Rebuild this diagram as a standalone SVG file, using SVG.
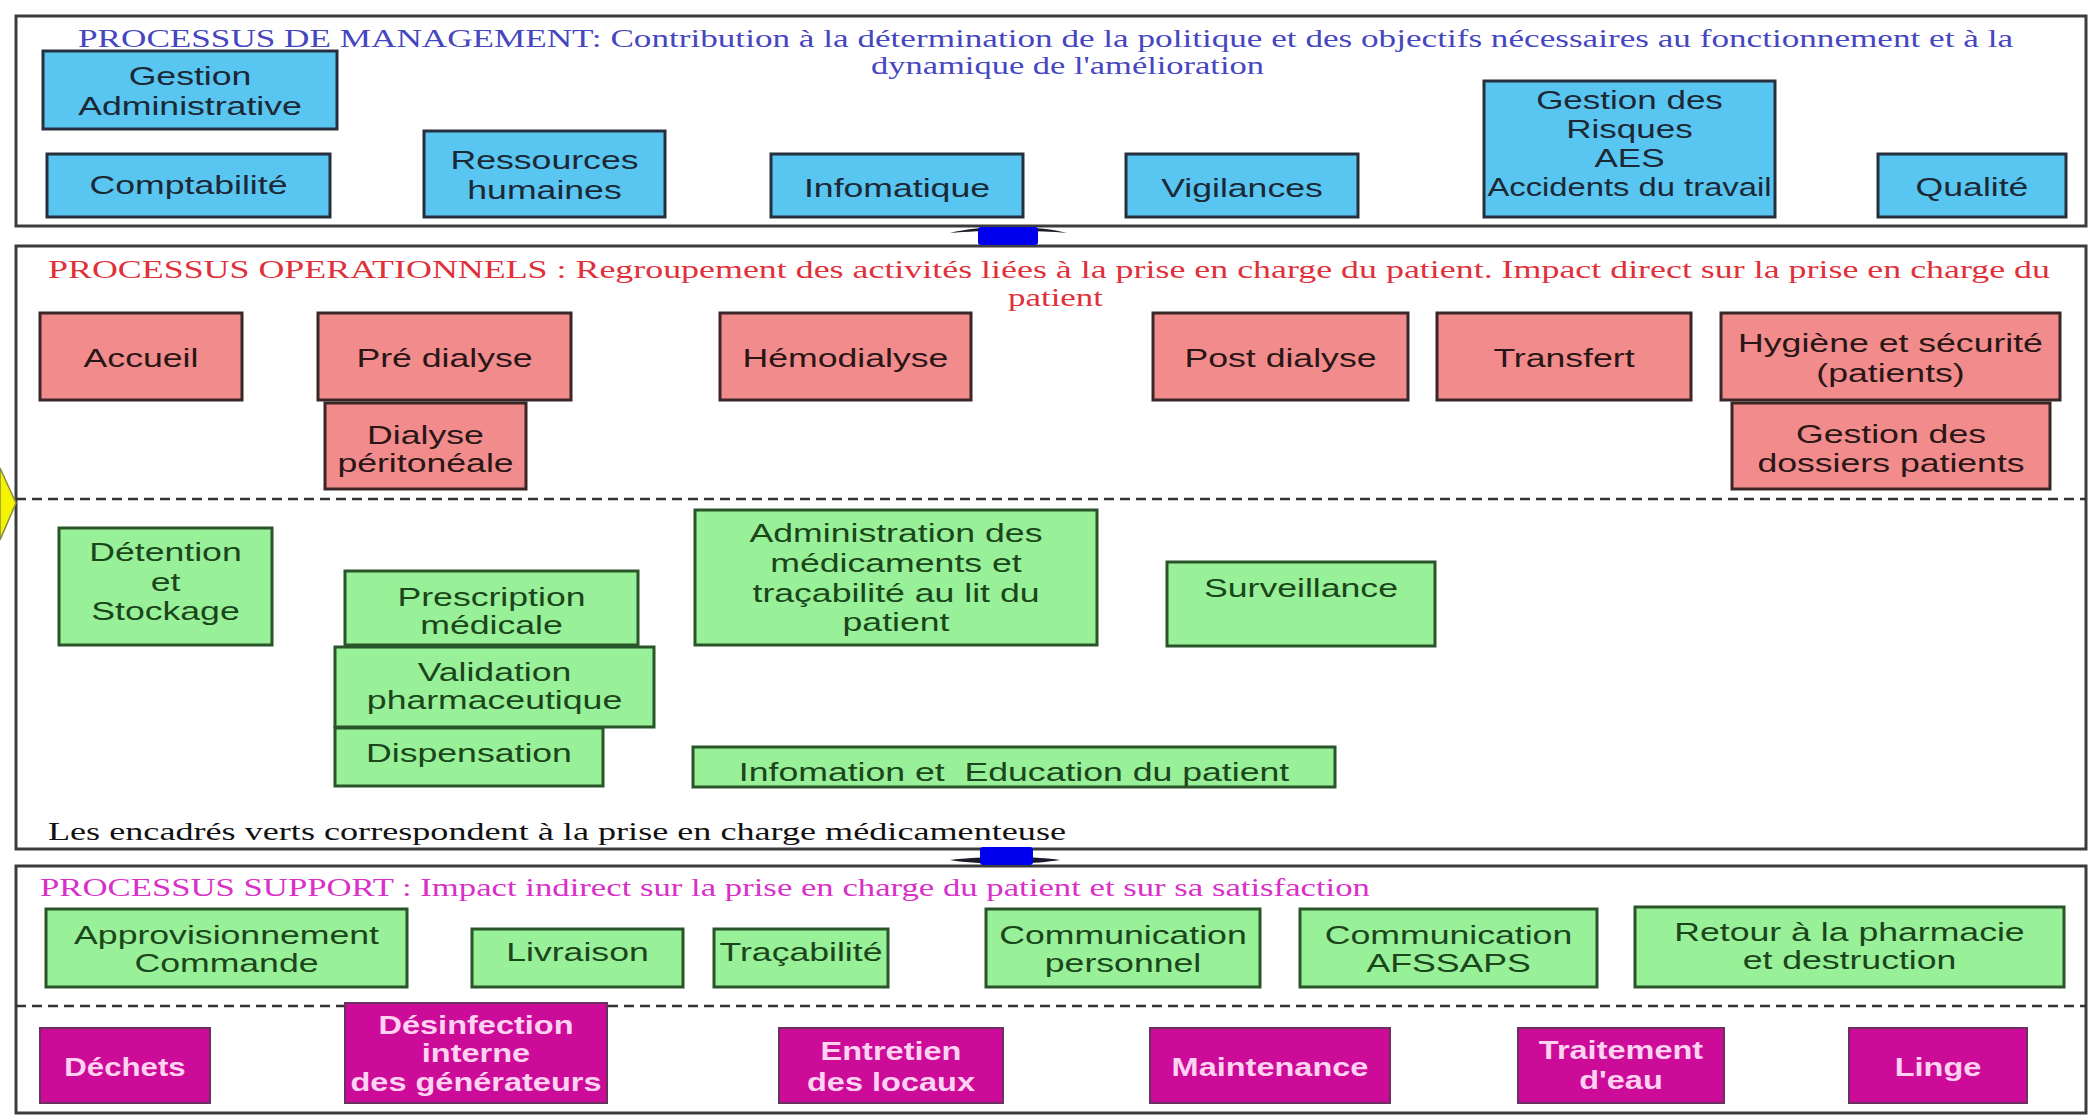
<svg xmlns="http://www.w3.org/2000/svg" width="2089" height="1119" viewBox="0 0 2089 1119">
<style>
.panel{fill:#ffffff;stroke:#3c3c3c;stroke-width:3}
.dash{stroke:#333;stroke-width:2.5;stroke-dasharray:10 6;fill:none}
.bb{fill:#58c6f0;stroke:#26303c;stroke-width:3}
.br{fill:#f28c8c;stroke:#3a2626;stroke-width:3}
.bg{fill:#98f098;stroke:#2a552a;stroke-width:3}
.bm{fill:#cc0c99;stroke:#6a3060;stroke-width:2}
.t{font-family:"Liberation Sans",Arial,sans-serif;font-size:26px;text-anchor:middle}
.tb{fill:#1c2836}
.tr{fill:#2a1616}
.tg{fill:#1b461b}
.tm{fill:#ffd2f2;font-weight:bold}
.h{font-family:"Liberation Serif","Times New Roman",serif;font-size:26px}
</style>
<rect width="2089" height="1119" fill="#ffffff"/>

<g id="panels">
<rect class="panel" x="16" y="16" width="2070" height="210"/>
<rect class="panel" x="16" y="246" width="2070" height="603"/>
<rect class="panel" x="16" y="866" width="2070" height="247"/>
<line class="dash" x1="16" y1="499" x2="2086" y2="499"/>
<line class="dash" x1="16" y1="1006" x2="2086" y2="1006"/>
<polygon points="0,468 16,503 0,540" fill="#f4f400" stroke="#8a8a40" stroke-width="1.5"/>
</g>

<g id="headers">
<text class="h" fill="#4646c0" x="78" y="47" textLength="1935" lengthAdjust="spacingAndGlyphs">PROCESSUS DE MANAGEMENT: Contribution à la détermination de la politique et des objectifs nécessaires au fonctionnement et à la</text>
<text class="h" fill="#4646c0" x="871" y="74" textLength="393" lengthAdjust="spacingAndGlyphs">dynamique de l'amélioration</text>
<text class="h" fill="#e0303a" x="48" y="278" textLength="2002" lengthAdjust="spacingAndGlyphs">PROCESSUS OPERATIONNELS : Regroupement des activités liées à la prise en charge du patient. Impact direct sur la prise en charge du</text>
<text class="h" fill="#e0303a" x="1008" y="306" textLength="95" lengthAdjust="spacingAndGlyphs">patient</text>
<text class="h" fill="#111" x="48" y="840" textLength="1018" lengthAdjust="spacingAndGlyphs">Les encadrés verts correspondent à la prise en charge médicamenteuse</text>
<text class="h" fill="#d830c8" x="40" y="896" textLength="1330" lengthAdjust="spacingAndGlyphs">PROCESSUS SUPPORT : Impact indirect sur la prise en charge du patient et sur sa satisfaction</text>
</g>

<g id="connectors">
<path d="M950,233 C980,225 1036,225 1067,233 C1036,230 980,230 950,233 Z" fill="#1a1a2a"/>
<rect x="978" y="227" width="60" height="18" rx="3" fill="#0000ee"/>
<path d="M950,860 C980,856 1030,856 1060,860 C1030,865 980,865 950,860 Z" fill="#1a1a2a"/>
<rect x="980" y="847" width="53" height="18" rx="3" fill="#0000ee"/>
</g>

<!-- management -->
<g id="n-gestion-admin"><rect class="bb" x="43" y="51" width="294" height="78"/>
<g transform="translate(190,0) scale(1.37,1)"><text class="t tb" x="0" y="85">Gestion</text><text class="t tb" x="0" y="115">Administrative</text></g></g>
<g id="n-comptabilite"><rect class="bb" x="47" y="154" width="283" height="63"/>
<g transform="translate(188.5,0) scale(1.37,1)"><text class="t tb" x="0" y="194">Comptabilité</text></g></g>
<g id="n-rh"><rect class="bb" x="424" y="131" width="241" height="86"/>
<g transform="translate(544.5,0) scale(1.37,1)"><text class="t tb" x="0" y="169">Ressources</text><text class="t tb" x="0" y="199">humaines</text></g></g>
<g id="n-informatique"><rect class="bb" x="771" y="154" width="252" height="63"/>
<g transform="translate(897,0) scale(1.37,1)"><text class="t tb" x="0" y="197">Infomatique</text></g></g>
<g id="n-vigilances"><rect class="bb" x="1126" y="154" width="232" height="63"/>
<g transform="translate(1242,0) scale(1.37,1)"><text class="t tb" x="0" y="197">Vigilances</text></g></g>
<g id="n-risques"><rect class="bb" x="1484" y="81" width="291" height="136"/>
<g transform="translate(1629.5,0) scale(1.4,1)"><text class="t tb" x="0" y="109" style="font-size:25px">Gestion des</text><text class="t tb" x="0" y="138" style="font-size:25px">Risques</text><text class="t tb" x="0" y="167" style="font-size:25px">AES</text></g>
<text class="t tb" x="1629.5" y="196" style="font-size:25px" textLength="284" lengthAdjust="spacingAndGlyphs">Accidents du travail</text></g>
<g id="n-qualite"><rect class="bb" x="1878" y="154" width="188" height="63"/>
<g transform="translate(1972,0) scale(1.37,1)"><text class="t tb" x="0" y="196">Qualité</text></g></g>

<!-- operational -->
<g id="n-accueil"><rect class="br" x="40" y="313" width="202" height="87"/>
<g transform="translate(141,0) scale(1.37,1)"><text class="t tr" x="0" y="367">Accueil</text></g></g>
<g id="n-predialyse"><rect class="br" x="318" y="313" width="253" height="87"/>
<g transform="translate(444.5,0) scale(1.37,1)"><text class="t tr" x="0" y="367">Pré dialyse</text></g></g>
<g id="n-hemodialyse"><rect class="br" x="720" y="313" width="251" height="87"/>
<g transform="translate(845.5,0) scale(1.37,1)"><text class="t tr" x="0" y="367">Hémodialyse</text></g></g>
<g id="n-postdialyse"><rect class="br" x="1153" y="313" width="255" height="87"/>
<g transform="translate(1280.5,0) scale(1.37,1)"><text class="t tr" x="0" y="367">Post dialyse</text></g></g>
<g id="n-transfert"><rect class="br" x="1437" y="313" width="254" height="87"/>
<g transform="translate(1564,0) scale(1.37,1)"><text class="t tr" x="0" y="367">Transfert</text></g></g>
<g id="n-hygiene"><rect class="br" x="1721" y="313" width="339" height="87"/>
<g transform="translate(1890.5,0) scale(1.37,1)"><text class="t tr" x="0" y="352">Hygiène et sécurité</text><text class="t tr" x="0" y="382">(patients)</text></g></g>
<g id="n-dialyse-peritoneale"><rect class="br" x="325" y="403" width="201" height="86"/>
<g transform="translate(425.5,0) scale(1.37,1)"><text class="t tr" x="0" y="444">Dialyse</text><text class="t tr" x="0" y="472">péritonéale</text></g></g>
<g id="n-dossiers"><rect class="br" x="1732" y="403" width="318" height="86"/>
<g transform="translate(1891,0) scale(1.37,1)"><text class="t tr" x="0" y="443">Gestion des</text><text class="t tr" x="0" y="472">dossiers patients</text></g></g>

<!-- medication (green) -->
<g id="n-detention"><rect class="bg" x="59" y="528" width="213" height="117"/>
<g transform="translate(165.5,0) scale(1.37,1)"><text class="t tg" x="0" y="561">Détention</text><text class="t tg" x="0" y="591">et</text><text class="t tg" x="0" y="620">Stockage</text></g></g>
<g id="n-prescription"><rect class="bg" x="345" y="571" width="293" height="74"/>
<g transform="translate(491.5,0) scale(1.37,1)"><text class="t tg" x="0" y="606">Prescription</text><text class="t tg" x="0" y="634">médicale</text></g></g>
<g id="n-validation"><rect class="bg" x="335" y="647" width="319" height="80"/>
<g transform="translate(494.5,0) scale(1.37,1)"><text class="t tg" x="0" y="681">Validation</text><text class="t tg" x="0" y="709">pharmaceutique</text></g></g>
<g id="n-dispensation"><rect class="bg" x="335" y="728" width="268" height="58"/>
<g transform="translate(469,0) scale(1.37,1)"><text class="t tg" x="0" y="762">Dispensation</text></g></g>
<g id="n-administration"><rect class="bg" x="695" y="510" width="402" height="135"/>
<g transform="translate(896,0) scale(1.37,1)"><text class="t tg" x="0" y="542">Administration des</text><text class="t tg" x="0" y="572">médicaments et</text><text class="t tg" x="0" y="602">traçabilité au lit du</text><text class="t tg" x="0" y="631">patient</text></g></g>
<g id="n-surveillance"><rect class="bg" x="1167" y="562" width="268" height="84"/>
<g transform="translate(1301,0) scale(1.37,1)"><text class="t tg" x="0" y="597">Surveillance</text></g></g>
<g id="n-information"><rect class="bg" x="693" y="747" width="642" height="40"/>
<g transform="translate(1014,0) scale(1.37,1)"><text class="t tg" x="0" y="781" xml:space="preserve">Infomation et  Education du patient</text></g></g>

<!-- support green -->
<g id="n-approvisionnement"><rect class="bg" x="46" y="909" width="361" height="78"/>
<g transform="translate(226.5,0) scale(1.37,1)"><text class="t tg" x="0" y="944">Approvisionnement</text><text class="t tg" x="0" y="972">Commande</text></g></g>
<g id="n-livraison"><rect class="bg" x="472" y="929" width="211" height="58"/>
<g transform="translate(577.5,0) scale(1.37,1)"><text class="t tg" x="0" y="961">Livraison</text></g></g>
<g id="n-tracabilite"><rect class="bg" x="714" y="929" width="174" height="58"/>
<g transform="translate(801,0) scale(1.37,1)"><text class="t tg" x="0" y="961">Traçabilité</text></g></g>
<g id="n-comm-personnel"><rect class="bg" x="986" y="909" width="274" height="78"/>
<g transform="translate(1123,0) scale(1.37,1)"><text class="t tg" x="0" y="944">Communication</text><text class="t tg" x="0" y="972">personnel</text></g></g>
<g id="n-comm-afssaps"><rect class="bg" x="1300" y="909" width="297" height="78"/>
<g transform="translate(1448.5,0) scale(1.37,1)"><text class="t tg" x="0" y="944">Communication</text><text class="t tg" x="0" y="972">AFSSAPS</text></g></g>
<g id="n-retour"><rect class="bg" x="1635" y="907" width="429" height="80"/>
<g transform="translate(1849.5,0) scale(1.37,1)"><text class="t tg" x="0" y="941">Retour à la pharmacie</text><text class="t tg" x="0" y="969">et destruction</text></g></g>

<!-- support magenta -->
<g id="n-dechets"><rect class="bm" x="40" y="1028" width="170" height="75"/>
<g transform="translate(125,0) scale(1.2,1)"><text class="t tm" x="0" y="1076">Déchets</text></g></g>
<g id="n-desinfection"><rect class="bm" x="345" y="1003" width="262" height="100"/>
<g transform="translate(476,0) scale(1.25,1)"><text class="t tm" x="0" y="1034">Désinfection</text><text class="t tm" x="0" y="1062">interne</text><text class="t tm" x="0" y="1091">des générateurs</text></g></g>
<g id="n-entretien"><rect class="bm" x="779" y="1028" width="224" height="75"/>
<g transform="translate(891,0) scale(1.25,1)"><text class="t tm" x="0" y="1060">Entretien</text><text class="t tm" x="0" y="1091">des locaux</text></g></g>
<g id="n-maintenance"><rect class="bm" x="1150" y="1028" width="240" height="75"/>
<g transform="translate(1270,0) scale(1.25,1)"><text class="t tm" x="0" y="1076">Maintenance</text></g></g>
<g id="n-traitement"><rect class="bm" x="1518" y="1028" width="206" height="75"/>
<g transform="translate(1621,0) scale(1.25,1)"><text class="t tm" x="0" y="1059">Traitement</text><text class="t tm" x="0" y="1089">d'eau</text></g></g>
<g id="n-linge"><rect class="bm" x="1849" y="1028" width="178" height="75"/>
<g transform="translate(1938,0) scale(1.25,1)"><text class="t tm" x="0" y="1076">Linge</text></g></g>
</svg>
